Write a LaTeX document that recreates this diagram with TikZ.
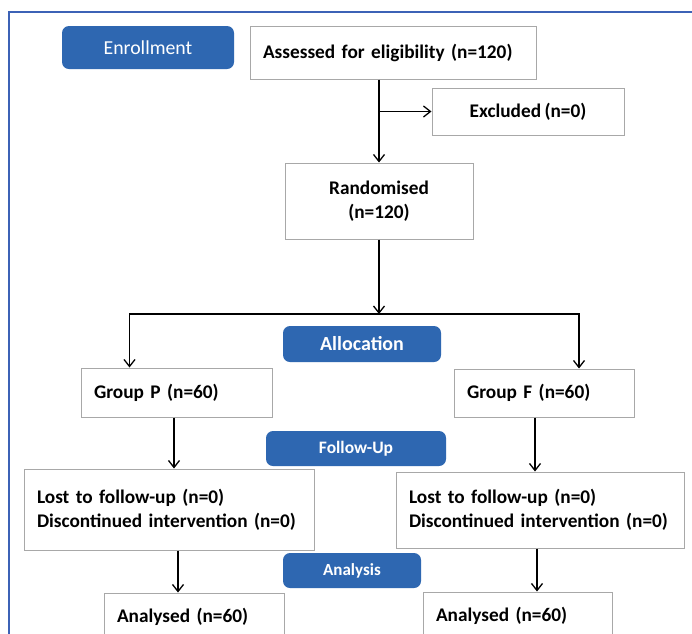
\documentclass[tikz,border=0pt]{standalone}
\usepackage{fontspec}
\setmainfont[WordSpace=0.8]{Carlito}
\usetikzlibrary{arrows.meta}

\definecolor{phaseblue}{RGB}{46,103,177}
\definecolor{framecol}{RGB}{60,98,182}
\definecolor{boxgray}{RGB}{168,168,168}

\begin{document}
\begin{tikzpicture}[x=1pt, y=-1pt,
    >={Straight Barb[length=7pt,width=11pt,line width=1.3pt]},
    flowbox/.style={draw=boxgray, line width=1pt, fill=white, inner xsep=13pt, inner ysep=0pt,
                    font=\fontsize{19.3}{24}\selectfont\bfseries},
    leftbox/.style={flowbox, align=left},
    midbox/.style={flowbox, align=center},
    phase/.style={fill=phaseblue, text=white, rounded corners=7pt, inner sep=0pt},
    link/.style={->, line width=1.3pt}]

  \clip (0,0) rectangle (692,633);
  \fill[white] (0,0) rectangle (692,633);
  \draw[framecol, line width=1.3pt] (9,650) -- (9,12) -- (700,12);

  % phase labels
  \node[phase, minimum width=172pt, minimum height=43pt, font=\fontsize{19.8}{22}\selectfont]
       (enrol) at (148,47.5) {Enrollment};
  \node[phase, minimum width=158pt, minimum height=36pt, font=\fontsize{20}{22}\selectfont\bfseries]
       (alloc) at (362,344) {Allocation};
  \node[phase, minimum width=180pt, minimum height=35pt, font=\fontsize{17.5}{20}\selectfont\bfseries]
       (follow) at (356,448.5) {Follow-Up};
  \node[phase, minimum width=138pt, minimum height=35pt, font=\fontsize{17}{20}\selectfont\bfseries]
       (analysis) at (352,570.5) {Analysis};

  % boxes
  \node[leftbox, text width=260pt, minimum height=53pt] (assess) at (393,52.5) {Assessed for eligibility (n=120)};
  \node[midbox, minimum width=192pt, minimum height=47pt] (excl) at (528,111.5) {Excluded (n=0)};
  \node[midbox, minimum width=188pt, minimum height=76pt] (rand) at (379,201) {Randomised\\(n=120)};

  \node[leftbox, text width=165pt, minimum height=49pt] (grpP) at (176.5,392.5) {Group P (n=60)};
  \node[leftbox, text width=154pt, minimum height=48pt] (grpF) at (544,393) {Group F (n=60)};

  \node[leftbox, text width=264pt, minimum height=81pt] (lostP) at (169,509.5)
       {Lost to follow-up (n=0)\\Discontinued intervention (n=0)};
  \node[leftbox, text width=262pt, minimum height=76pt] (lostF) at (540,510)
       {Lost to follow-up (n=0)\\Discontinued intervention (n=0)};

  \node[leftbox, text width=154pt, minimum height=47pt] (anaP) at (194,616.5) {Analysed (n=60)};
  \node[leftbox, text width=163pt, minimum height=47pt] (anaF) at (517.5,615.5) {Analysed (n=60)};

  % connectors
  \coordinate (split) at (379,314);
  \draw[link] (assess.south -| rand.north) -- (rand.north);
  \draw[link] (excl.west -| rand.north) -- (excl.west);
  \draw[link] (rand.south) -- (split);
  \draw[link] (split) -| ([xshift=-47pt]grpP.north);
  \draw[link] (split) -| ([xshift=35pt]grpF.north);

  \draw[link] ([xshift=-2.5pt]grpP.south) -- ([xshift=-2.5pt]grpP.south |- lostP.north);
  \draw[link] ([xshift=9pt]lostP.south) -- ([xshift=9pt]lostP.south |- anaP.north);
  \draw[link] ([xshift=-9pt]grpF.south) -- ([xshift=-9pt]grpF.south |- lostF.north);
  \draw[link] ([xshift=-3pt]lostF.south) -- ([xshift=-3pt]lostF.south |- anaF.north);
\end{tikzpicture}
\end{document}
